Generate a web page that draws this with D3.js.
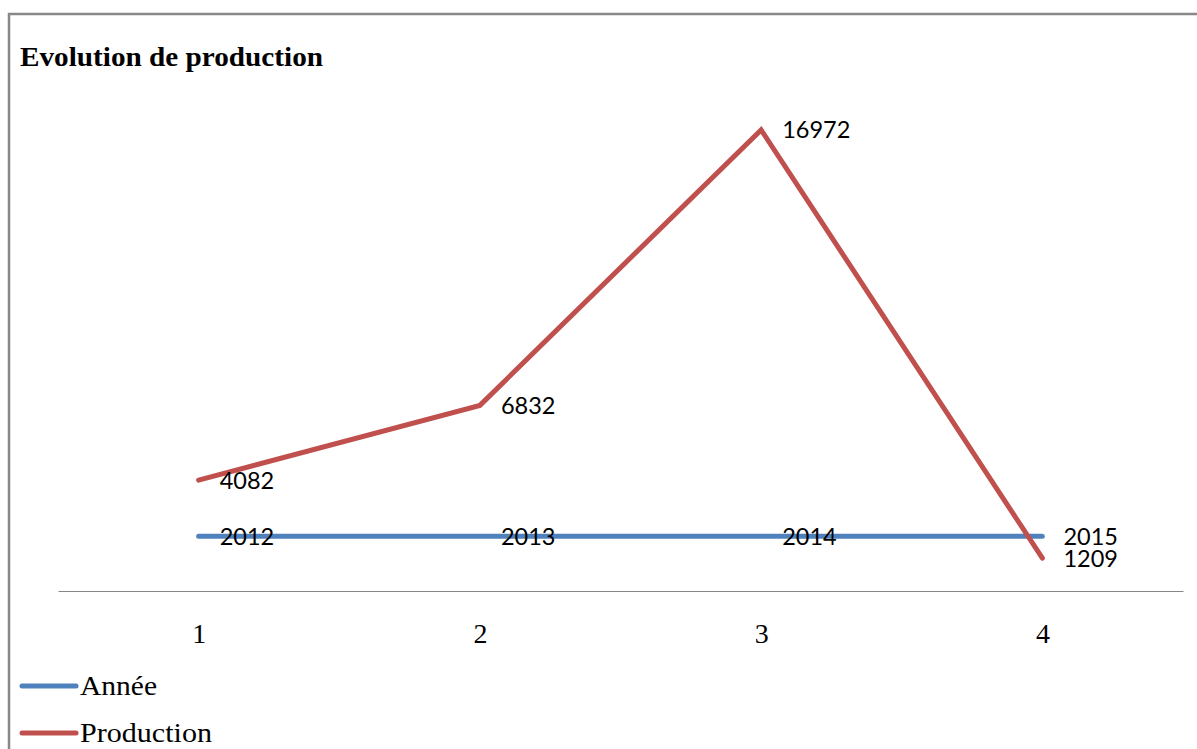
<!DOCTYPE html>
<html>
<head>
<meta charset="utf-8">
<script src="https://cdn.jsdelivr.net/npm/d3@7"></script>
<style>
  html, body { margin: 0; padding: 0; background: #fff; }
  svg { display: block; }
</style>
</head>
<body>
<svg id="chart" width="1197" height="749"></svg>
<script>
// Categories on the horizontal axis and the two series plotted against them
const categories = ["1", "2", "3", "4"];
const anneeValues = [2012, 2013, 2014, 2015];
const productionValues = [4082, 6832, 16972, 1209];
const seriesNames = ["Année", "Production"];
const seriesColors = ["#4F81BD", "#C0504D"];
const legendWidths = [77, 132];

const svg = d3.select("#chart");
const W = 1197, H = 749;

// Outer frame of the chart area
svg.append("rect")
  .attr("x", 9).attr("y", 14)
  .attr("width", W + 20).attr("height", H + 20)
  .attr("fill", "#fff")
  .attr("stroke", "#888").attr("stroke-width", 2.5);

// Title
svg.append("text")
  .attr("x", 20).attr("y", 66)
  .attr("font-family", "'Liberation Serif', 'Times New Roman', serif")
  .attr("font-weight", "bold")
  .attr("font-size", 27)
  .attr("textLength", 303)
  .attr("lengthAdjust", "spacingAndGlyphs")
  .attr("fill", "#000")
  .text("Evolution de production");

// Scales
const x = d3.scalePoint().domain(categories).range([58, 1183]).padding(0.5);
const y = d3.scaleLinear().domain([0, 18000]).range([591, 102]);

// Category axis: baseline only, labels below
const xAxis = d3.axisBottom(x).tickSize(0).tickPadding(0);
const gx = svg.append("g").attr("transform", "translate(0,591)").call(xAxis);
gx.select(".domain").attr("stroke", "#868686").attr("stroke-width", 1.2);
gx.selectAll(".tick text")
  .attr("dy", 0).attr("y", 52)
  .attr("font-family", "'Liberation Serif', 'Times New Roman', serif")
  .attr("font-size", 28)
  .attr("fill", "#000");

// Series
const series = [
  { name: seriesNames[0], values: anneeValues, color: seriesColors[0] },
  { name: seriesNames[1], values: productionValues, color: seriesColors[1] }
];

const line = d3.line()
  .x((d, i) => x(categories[i]))
  .y(d => y(d));

series.forEach(s => {
  svg.append("path")
    .datum(s.values)
    .attr("d", line)
    .attr("fill", "none")
    .attr("stroke", s.color)
    .attr("stroke-width", 5)
    .attr("stroke-linejoin", "miter")
    .attr("stroke-linecap", "round");
});

// Data labels to the right of each point
series.forEach(s => {
  svg.append("g").selectAll("text")
    .data(s.values)
    .join("text")
    .attr("x", (d, i) => x(categories[i]) + 21)
    .attr("y", d => y(d))
    .attr("dy", "0.36em")
    .attr("font-family", "Lato, 'Open Sans', sans-serif")
    .attr("font-size", 23.5)
    .attr("fill", "#000")
    .text(d => d);
});

// Legend
const legend = svg.append("g");
series.forEach((s, i) => {
  const ly = 686 + i * 47;
  legend.append("line")
    .attr("x1", 22).attr("x2", 76)
    .attr("y1", ly).attr("y2", ly)
    .attr("stroke", s.color)
    .attr("stroke-width", 5)
    .attr("stroke-linecap", "round");
  legend.append("text")
    .attr("x", 80).attr("y", ly + 9)
    .attr("font-family", "'Liberation Serif', 'Times New Roman', serif")
    .attr("font-size", 27)
    .attr("textLength", legendWidths[i])
    .attr("lengthAdjust", "spacingAndGlyphs")
    .attr("fill", "#000")
    .text(s.name);
});
</script>
</body>
</html>
